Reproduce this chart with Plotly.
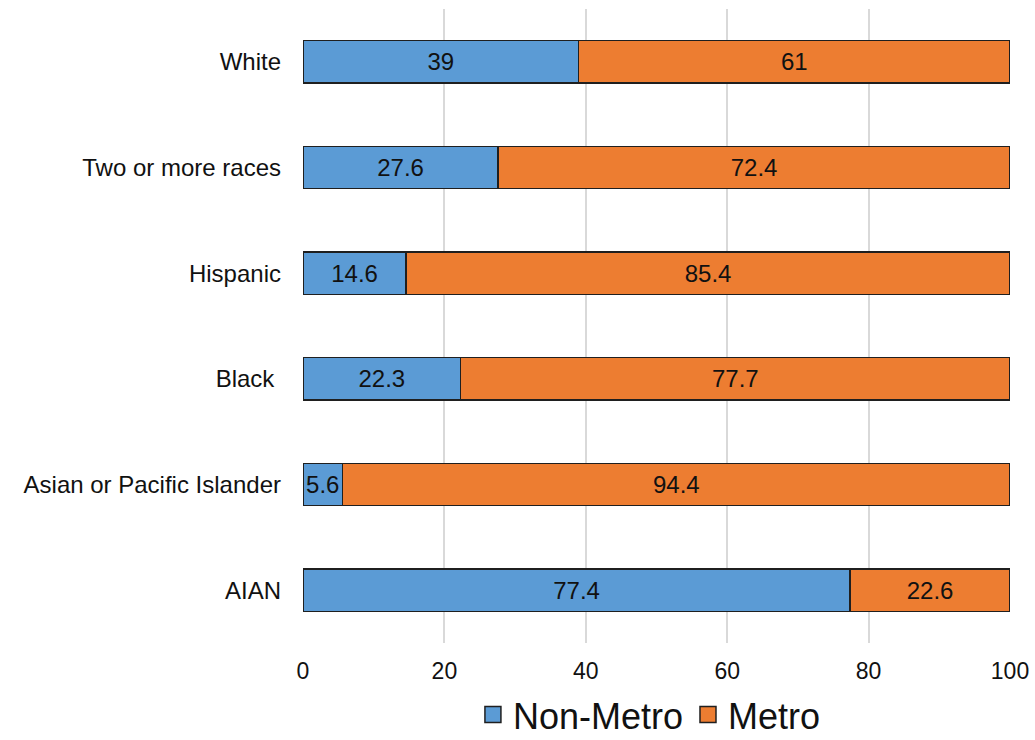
import plotly.graph_objects as go

categories = ["AIAN", "Asian or Pacific Islander", "Black\u00a0", "Hispanic", "Two or more races", "White"]
non_metro = [77.4, 5.6, 22.3, 14.6, 27.6, 39]
metro = [22.6, 94.4, 77.7, 85.4, 72.4, 61]
x_ticks = [0, 20, 40, 60, 80, 100]

FONT = "Liberation Sans, Arial, sans-serif"
BLUE = "#5b9bd5"
ORANGE = "#ed7d31"
EDGE = "#1f1f1f"

fig = go.Figure()
for name, vals, color in [("Non-Metro", non_metro, BLUE), ("Metro", metro, ORANGE)]:
    fig.add_trace(go.Bar(
        y=categories, x=vals, orientation="h", name=name, showlegend=False,
        marker=dict(color=color, line=dict(color=EDGE, width=1.5)),
        text=[f"{v:g}" for v in vals], textposition="inside", insidetextanchor="middle",
        textangle=0, textfont=dict(color="#111111", size=24, family=FONT),
        constraintext="none",
    ))
# legend-only entries with larger square swatches
for name, color in [("Non-Metro", BLUE), ("Metro", ORANGE)]:
    fig.add_trace(go.Scatter(
        x=[None], y=[None], mode="markers", name=name,
        marker=dict(symbol="square", size=17, color=color, line=dict(color=EDGE, width=1.5)),
    ))

fig.update_layout(
    barmode="stack",
    bargap=0.6,
    width=1035, height=740,
    margin=dict(l=303, r=25, t=9, b=97, autoexpand=False),
    paper_bgcolor="white", plot_bgcolor="white",
    font=dict(family=FONT, color="#111111", size=24),
    legend=dict(orientation="h", x=0.49, xanchor="center", y=-0.113, yanchor="middle",
                font=dict(size=36, family=FONT, color="#111111"), traceorder="normal",
                itemwidth=30, tracegroupgap=0),
    xaxis=dict(range=[0, 100], tickvals=x_ticks, showgrid=True, gridcolor="#d9d9d9", gridwidth=1.5,
               zeroline=False, showline=False, ticks="", tickfont=dict(size=23), ticklabelstandoff=12),
    yaxis=dict(showgrid=False, showline=False, ticks="", tickfont=dict(size=24),
               ticklabelstandoff=21, categoryorder="array", categoryarray=categories),
)

fig.write_html("out.html", config={"displayModeBar": False},
               post_script="document.body.style.margin='0';document.body.style.overflow='hidden';")
